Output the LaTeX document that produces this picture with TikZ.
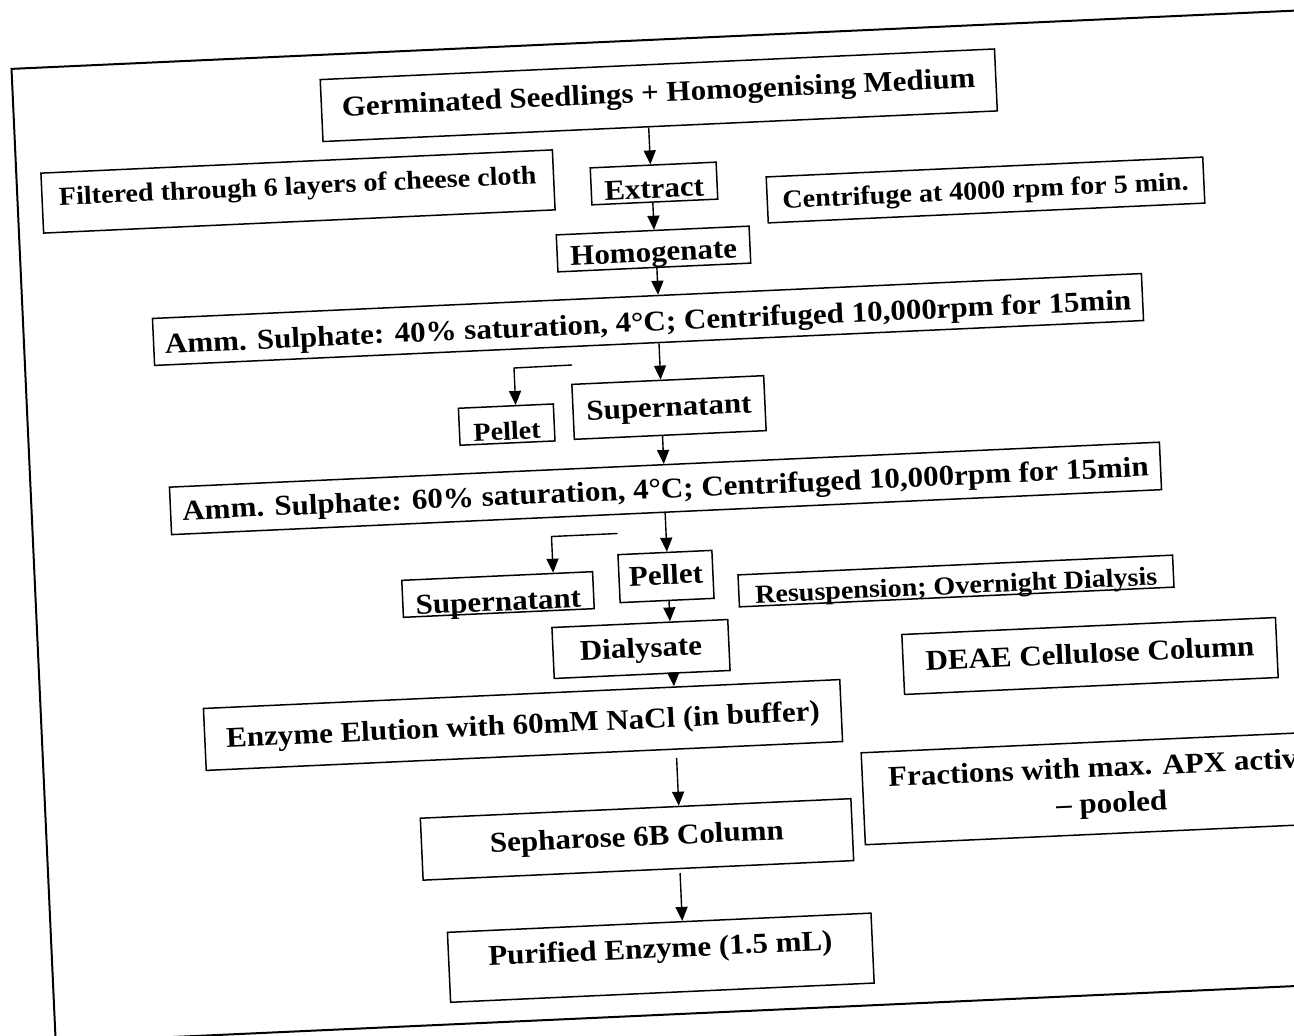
\documentclass[tikz,border=0pt]{standalone}
\usepackage{fontspec}
\setmainfont{Liberation Serif}[FakeStretch=1.08]
\usetikzlibrary{arrows.meta,calc}
\begin{document}
\begin{tikzpicture}[x=1pt,y=-1pt,
  box/.style={draw, line width=1.5pt, rectangle, rotate=2.6, inner sep=0pt,
    font=\bfseries\fontsize{28.7}{33}\selectfont},
  smalltext/.style={font=\bfseries\fontsize{26}{30}\selectfont},
  arr/.style={line width=1.4pt, -{Triangle[length=14pt,width=12pt]}},
  frame/.style={line width=2pt}
]
\useasboundingbox (0,0) rectangle (1294,1036);
\clip (0,0) rectangle (1294,1036);

% outer frame of the sheet
\draw[frame, rotate around={2.6:(647,518)}] (32.5,40.5) rectangle (1420,1015);

% process steps
\node[box, minimum width=675pt, text height=37.5pt, text depth=24.5pt] (G) at (658.75,95.25)
  {Germinated Seedlings + Homogenising Medium};
\node[box, smalltext, minimum width=512pt, text height=33pt, text depth=27pt] (F) at (298,191.5)
  {Filtered through 6 layers of cheese cloth};
\node[box, minimum width=126pt, text height=33pt, text depth=4pt] (E) at (654,183.5) {Extract};
\node[box, smalltext, minimum width=437pt, text height=32pt, text depth=14pt] (C) at (985.5,190)
  {Centrifuge at 4000 rpm for 5 min.};
\node[box, minimum width=193pt, text height=31pt, text depth=6pt] (H) at (653.5,249) {Homogenate};
\node[box, minimum width=990pt, text height=35.5pt, text depth=11.5pt] (A1) at (648,319.5)
  {Amm. Sulphate: 40\% saturation, 4°C; Centrifuged 10,000rpm for 15min};
\node[box, smalltext, minimum width=95pt, text height=34pt, text depth=3pt] (P1) at (506.7,424.6) {Pellet};
\node[box, minimum width=192pt, text height=36.4pt, text depth=18.6pt] (S1) at (669,407.5) {Supernatant};
\node[box, minimum width=991pt, text height=33.5pt, text depth=14pt] (A2) at (665.5,488.4)
  {Amm. Sulphate: 60\% saturation, 4°C; Centrifuged 10,000rpm for 15min};
\node[box, minimum width=191pt, text height=35pt, text depth=2pt] (S2) at (498,594.5) {Supernatant};
\node[box, minimum width=94pt, text height=32pt, text depth=16pt] (P2) at (666,576.5) {Pellet};
\node[box, smalltext, minimum width=435pt, text height=29pt, text depth=3pt] (R) at (956,581)
  {Resuspension; Overnight Dialysis};
\node[box, minimum width=176pt, text height=34pt, text depth=17pt] (D) at (641,649) {Dialysate};
\node[box, minimum width=637pt, text height=40pt, text depth=22pt] (EE) at (523,725)
  {Enzyme Elution with 60mM NaCl (in buffer)};
\node[box, minimum width=374pt, text height=37pt, text depth=23pt] (DE) at (1090,656)
  {DEAE Cellulose Column};
\node[box, minimum width=496pt, minimum height=92pt, align=center,
  font=\bfseries\fontsize{28.7}{36}\selectfont] (FR) at (1111,787.5)
  {Fractions with max. APX activity\\-- pooled};
\node[box, minimum width=431pt, text height=37.5pt, text depth=24.5pt] (SP) at (637,839.4)
  {Sepharose 6B Column};
\node[box, minimum width=424pt, text height=35pt, text depth=35pt] (PE) at (660.8,957.7)
  {Purified Enzyme (1.5 mL)};

% connectors
\coordinate (g1) at ($(G.south west)!0.483!(G.south east)$);
\draw[arr] (g1) -- ($(E.north west)!(g1)!(E.north east)$);
\coordinate (e1) at ($(E.south west)!0.484!(E.south east)$);
\draw[arr] (e1) -- ($(H.north west)!(e1)!(H.north east)$);
\coordinate (h1) at ($(H.south west)!0.513!(H.south east)$);
\draw[arr] (h1) -- ($(A1.north west)!(h1)!(A1.north east)$);
\coordinate (a1) at ($(A1.south west)!0.51!(A1.south east)$);
\draw[arr] (a1) -- ($(S1.north west)!(a1)!(S1.north east)$);
\coordinate (b1) at (572,365);
\coordinate (c1) at (514,368);
\draw[arr] (b1) -- (c1) -- ($(P1.north west)!(c1)!(P1.north east)$);
\coordinate (s1) at ($(S1.south west)!0.46!(S1.south east)$);
\draw[arr] (s1) -- ($(A2.north west)!(s1)!(A2.north east)$);
\coordinate (a2) at ($(A2.south west)!0.4985!(A2.south east)$);
\draw[arr] (a2) -- ($(P2.north west)!(a2)!(P2.north east)$);
\coordinate (b2) at (617.5,533.5);
\coordinate (c2) at (551.5,536.5);
\draw[arr] (b2) -- (c2) -- ($(S2.north west)!(c2)!(S2.north east)$);
\coordinate (p2) at ($(P2.south west)!0.52!(P2.south east)$);
\draw[arr] (p2) -- ($(D.north west)!(p2)!(D.north east)$);
\coordinate (d1) at ($(D.south west)!0.676!(D.south east)$);
\draw[arr] (d1) -- ($(EE.north west)!(d1)!(EE.north east)$);
\coordinate (ee1) at ($(EE.south west)!0.738!(EE.south east)$);
\draw[arr, shorten <=8pt] (ee1) -- ($(SP.north west)!(ee1)!(SP.north east)$);
\coordinate (sp1) at ($(SP.south west)!0.596!(SP.south east)$);
\draw[arr, shorten <=4pt] (sp1) -- ($(PE.north west)!(sp1)!(PE.north east)$);
\end{tikzpicture}
\end{document}
